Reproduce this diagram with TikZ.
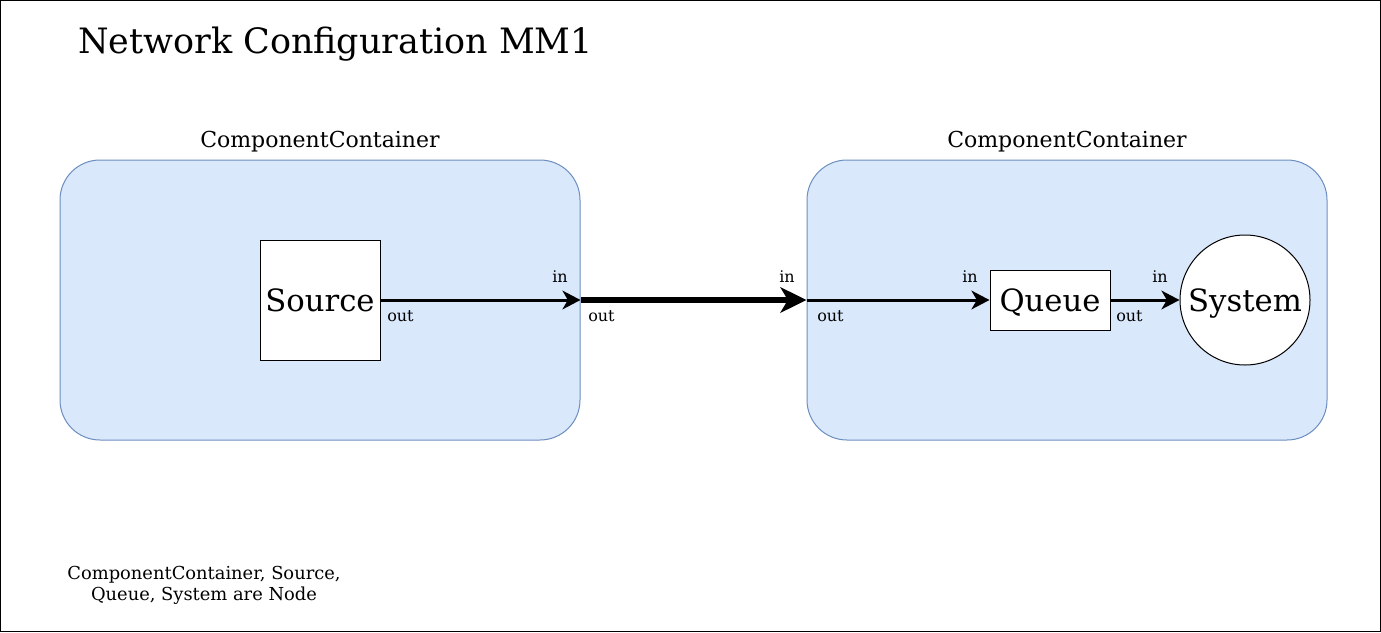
\documentclass[tikz,border=0pt]{standalone}
\usepackage{fontspec}
\setmainfont{DejaVu Serif}
\usetikzlibrary{arrows.meta}
\definecolor{contfill}{HTML}{DAE8FC}
\definecolor{contline}{HTML}{6C8EBF}
\begin{document}
\begin{tikzpicture}[x=0.75pt, y=-0.75pt,
    container/.style ={draw=contline, fill=contfill, line width=0.75pt, rounded corners=30pt,
                       minimum width=390pt, minimum height=210pt, inner sep=0pt},
    component/.style ={draw, fill=white, line width=0.75pt, inner sep=0pt, text height=17pt, text depth=0pt,
                       font=\fontsize{23}{27}\selectfont},
    port/.style ={inner sep=0pt, font=\fontsize{12}{14}\selectfont},
    link/.style ={line width=2.25pt, -{Stealth[length=13.5pt, width=14pt, inset=4pt]}},
    biglink/.style ={line width=4pt, -{Stealth[length=19.5pt, width=19pt, inset=5.5pt]}}]
   \useasboundingbox (0,0) rectangle (1381,632);
   \draw[line width=0.75pt] (0.5,0.5) rectangle (1380.5,631.5);

   \node[inner sep=0pt, anchor=base west, font=\fontsize{26.2}{32}\selectfont] (title) at (78,53) {Network Configuration MM1};

   \node[container] (C1) at (320,300) {};
   \node[container] (C2) at (1067,300) {};
   \node[inner sep=0pt, anchor=base, font=\fontsize{16.5}{20}\selectfont] (L1) at (320,147) {ComponentContainer};
   \node[inner sep=0pt, anchor=base, font=\fontsize{16.5}{20}\selectfont] (L2) at (1067,147) {ComponentContainer};

   \node[component, minimum width=90pt, minimum height=90pt] (src) at (320,300) {Source};
   \node[component, minimum width=90pt, minimum height=45pt] (que) at (1050,300) {Queue};
   \node[component, circle, minimum size=97.5pt] (sys) at (1245,300) {System};

   \draw[link] (src.east) to (C1.east);
   \draw[biglink] (C1.east) to (C2.west);
   \draw[link] (C2.west) to (que.west);
   \draw[link] (que.east) to (sys.west);

   \node[port, anchor=base east] (in1) at (568,282) {in};
   \node[port, anchor=base east] (in2) at (795,282) {in};
   \node[port, anchor=base east] (in3) at (978,282) {in};
   \node[port, anchor=base east] (in4) at (1168,282) {in};
   \node[port, anchor=base west] (out1) at (387,321) {out};
   \node[port, anchor=base west] (out2) at (588,321) {out};
   \node[port, anchor=base west] (out3) at (817,321) {out};
   \node[port, anchor=base west] (out4) at (1116,321) {out};

   \node[inner sep=0pt, anchor=base, align=center, font=\fontsize{13.4}{15.75}\selectfont] (note) at (204,600)
      {ComponentContainer, Source,\\Queue, System are Node};
 \end{tikzpicture}
\end{document}
